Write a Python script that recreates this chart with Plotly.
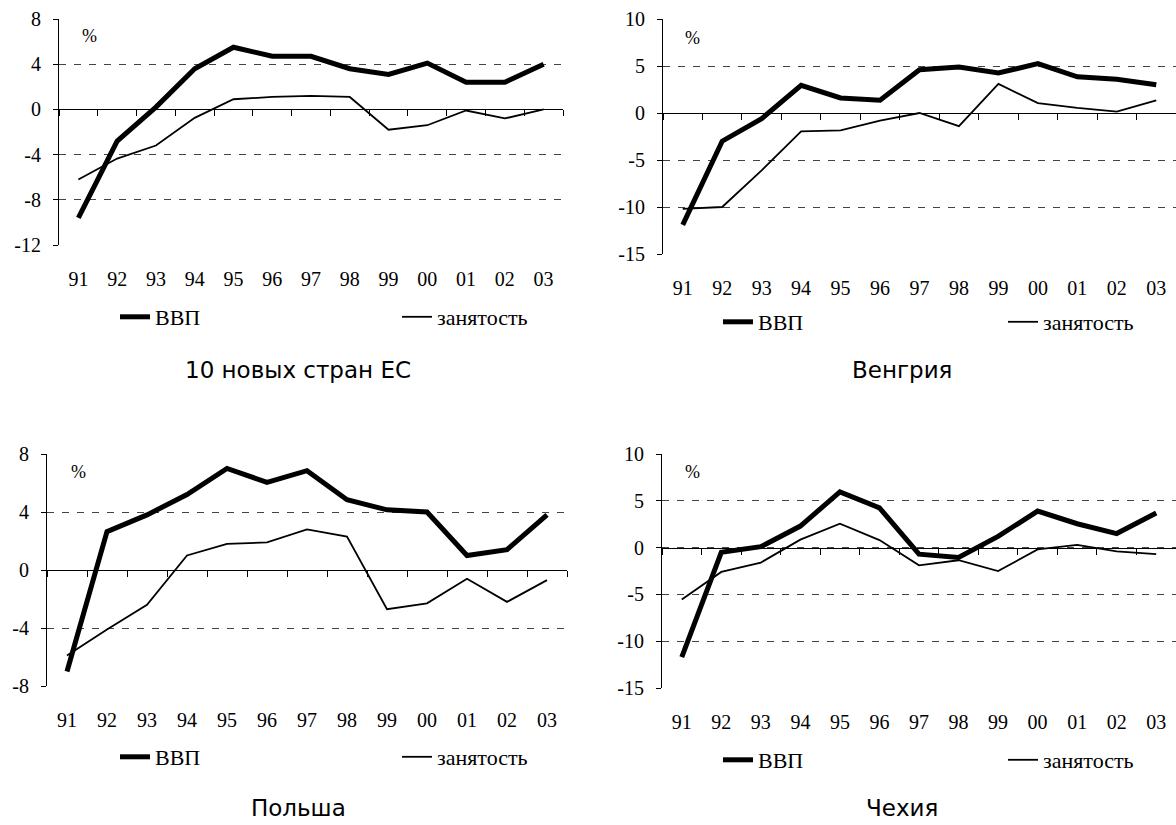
import plotly.graph_objects as go

# ---------------- data ----------------
years = ["91", "92", "93", "94", "95", "96", "97", "98", "99", "00", "01", "02", "03"]

series_names = ["ВВП", "занятость"]
panel_titles = ["10 новых стран ЕС", "Венгрия", "Польша", "Чехия"]

eu10_gdp = [-9.6, -2.8, 0.2, 3.6, 5.5, 4.7, 4.7, 3.6, 3.1, 4.1, 2.4, 2.4, 4.0]
eu10_emp = [-6.2, -4.35, -3.2, -0.75, 0.9, 1.1, 1.2, 1.1, -1.8, -1.4, -0.1, -0.8, 0.0]

hun_gdp = [-11.9, -3.0, -0.6, 2.95, 1.6, 1.35, 4.6, 4.9, 4.25, 5.25, 3.85, 3.6, 3.0]
hun_emp = [-10.2, -10.0, -6.1, -1.95, -1.85, -0.8, 0.0, -1.4, 3.1, 1.05, 0.55, 0.15, 1.35]

pol_gdp = [-7.0, 2.65, 3.8, 5.2, 7.0, 6.05, 6.85, 4.85, 4.15, 4.0, 1.0, 1.4, 3.8]
pol_emp = [-5.9, -4.1, -2.4, 1.0, 1.8, 1.9, 2.8, 2.3, -2.7, -2.3, -0.6, -2.2, -0.7]

cze_gdp = [-11.7, -0.5, 0.1, 2.3, 5.95, 4.25, -0.7, -1.05, 1.2, 3.9, 2.55, 1.5, 3.7]
cze_emp = [-5.55, -2.6, -1.6, 0.85, 2.55, 0.8, -1.9, -1.35, -2.5, -0.2, 0.3, -0.4, -0.7]

ticks_a = [-12, -8, -4, 0, 4, 8]
ticks_b = [-15, -10, -5, 0, 5, 10]
ticks_c = [-8, -4, 0, 4, 8]
range_a = [-12, 8]
range_b = [-15, 10]
range_c = [-8, 8]

# ---------------- layout geometry (pixels) ----------------
W, H = 1176, 825
SERIF = "Liberation Serif, Times New Roman, DejaVu Serif, serif"
SANS = "DejaVu Sans, Verdana, sans-serif"

panels = [
    dict(gdp=eu10_gdp, emp=eu10_emp, ticks=ticks_a, rng=range_a, title=panel_titles[0],
         xl=59, xr=563, yt=19, yb=245, pct=(89, 36), leg=(115, 397, 317), tit=(298, 370)),
    dict(gdp=hun_gdp, emp=hun_emp, ticks=ticks_b, rng=range_b, title=panel_titles[1],
         xl=663, xr=1176, yt=19, yb=254, pct=(692, 38), leg=(718, 1003, 322), tit=(902, 370)),
    dict(gdp=pol_gdp, emp=pol_emp, ticks=ticks_c, rng=range_c, title=panel_titles[2],
         xl=47, xr=567, yt=454, yb=686, pct=(78, 472), leg=(115, 397, 757), tit=(298, 808)),
    dict(gdp=cze_gdp, emp=cze_emp, ticks=ticks_b, rng=range_b, title=panel_titles[3],
         xl=662, xr=1176, yt=454, yb=688, pct=(692, 472), leg=(718, 1003, 760), tit=(902, 808)),
]


def fx(px):
    return px / W


def fy(py):
    return 1 - py / H


fig = go.Figure()
annotations = []
layout = dict(
    width=W, height=H,
    margin=dict(l=0, r=0, t=0, b=0, autoexpand=False),
    paper_bgcolor="white", plot_bgcolor="white",
    showlegend=True,
    font=dict(family=SERIF, color="black"),
)

n = len(years)
boundaries = [i - 0.5 for i in range(n + 1)]
widths = [5, 1.8]

for i, p in enumerate(panels, start=1):
    sfx = "" if i == 1 else str(i)
    xa, ya = "x" + sfx, "y" + sfx

    for j, (vals, nm) in enumerate(zip([p["gdp"], p["emp"]], series_names)):
        li = 2 * (i - 1) + j + 1
        leg = "legend" if li == 1 else "legend" + str(li)
        fig.add_trace(go.Scatter(
            x=years, y=vals, mode="lines", name=nm,
            line=dict(color="black", width=widths[j]), xaxis=xa, yaxis=ya, legend=leg,
            hoverinfo="skip"))
        layout[leg] = dict(
            orientation="h", x=fx(p["leg"][j]), y=fy(p["leg"][2]),
            xanchor="left", yanchor="middle",
            font=dict(family=SERIF, size=22, color="black"),
            bgcolor="rgba(0,0,0,0)", borderwidth=0)

    lo, hi = p["rng"]
    yd0, yd1 = fy(p["yb"]), fy(p["yt"])
    zero_pos = yd0 + (0 - lo) / (hi - lo) * (yd1 - yd0)

    layout["xaxis" + sfx] = dict(
        domain=[fx(p["xl"]), fx(p["xr"])], anchor=ya, type="category",
        range=[-0.5, n - 0.5], showline=False, showgrid=False, zeroline=False,
        ticks="", ticklabelstandoff=20, automargin=False,
        tickfont=dict(family=SERIF, size=20, color="black"))
    layout["yaxis" + sfx] = dict(
        domain=[yd0, yd1], anchor=xa, range=[lo, hi], automargin=False,
        tickmode="array", tickvals=p["ticks"], ticktext=[str(t) for t in p["ticks"]],
        showline=True, linecolor="black", linewidth=1,
        ticks="outside", ticklen=5, tickcolor="black", ticklabelstandoff=8,
        showgrid=True, gridcolor="#444444", gridwidth=1, griddash="7px,8px",
        zeroline=False,
        tickfont=dict(family=SERIF, size=20, color="black"))
    # zero line with category boundary ticks
    k = 4 + i
    layout["xaxis" + str(k)] = dict(
        overlaying=xa, anchor="free", position=zero_pos, side="bottom",
        type="linear", range=[-0.5, n - 0.5], automargin=False,
        showline=True, linecolor="black", linewidth=1,
        ticks="outside", ticklen=6, tickcolor="black",
        tickmode="array", tickvals=boundaries, showticklabels=False,
        showgrid=False, zeroline=False)

    annotations.append(dict(
        text="%", x=fx(p["pct"][0]), y=fy(p["pct"][1]), xref="paper", yref="paper",
        showarrow=False, xanchor="center", yanchor="middle",
        font=dict(family=SERIF, size=18, color="black")))
    annotations.append(dict(
        text=p["title"], x=fx(p["tit"][0]), y=fy(p["tit"][1]), xref="paper", yref="paper",
        showarrow=False, xanchor="center", yanchor="middle",
        font=dict(family=SANS, size=23, color="black")))

layout["annotations"] = annotations
fig.update_layout(**layout)

# helper traces so that overlay (zero-line) axes render
for i in range(1, 5):
    k = 4 + i
    sfx = "" if i == 1 else str(i)
    fig.add_trace(go.Scatter(x=[0], y=[0], xaxis="x" + str(k), yaxis="y" + sfx,
                             mode="markers", marker=dict(opacity=0), showlegend=False,
                             hoverinfo="skip"))

fig.write_html(
    "out.html",
    config={"displayModeBar": False, "staticPlot": True},
    post_script="document.body.style.margin='0';document.body.style.overflow='hidden';",
)
